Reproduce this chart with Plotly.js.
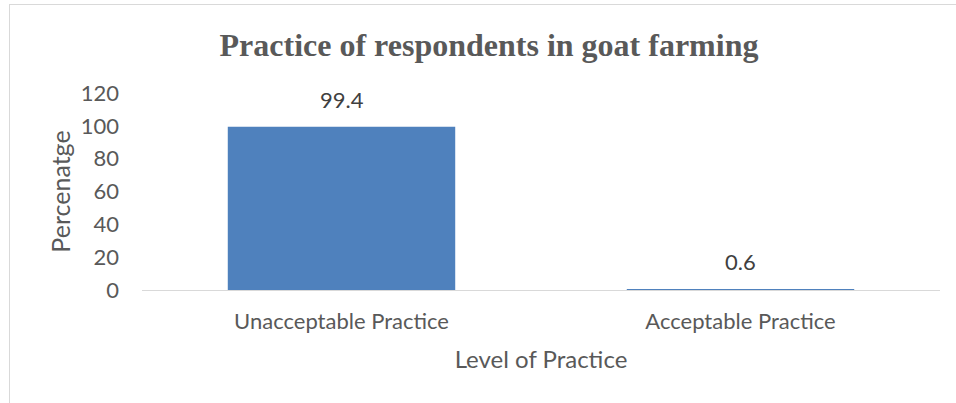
<!DOCTYPE html>
<html><head><meta charset="utf-8">
<script src="https://cdn.plot.ly/plotly-3.0.1.min.js"></script>
<style>
html,body{margin:0;padding:0;background:#fff;}
#frame{position:absolute;left:9px;top:4px;width:1000px;height:500px;border:1px solid #d9d9d9;box-sizing:border-box;}
#chart{position:absolute;left:0;top:0;width:956px;height:403px;}
</style></head>
<body>
<div id="frame"></div>
<div id="chart"></div>
<script>
const categories = ["Unacceptable Practice", "Acceptable Practice"];
const percentages = [99.4, 0.6];
const valueLabels = ["99.4", "0.6"];
const yTicks = [0, 20, 40, 60, 80, 100, 120];

const txt = '#595959';
const font = 'Lato, "Open Sans", sans-serif';

const labelAnnotations = categories.map((c, i) => ({
  x: c, y: percentages[i], xref: 'x', yref: 'y',
  text: valueLabels[i], showarrow: false,
  yanchor: 'bottom', yshift: 12,
  font: {family: font, size: 22, color: '#404040'}
}));

Plotly.newPlot('chart', [{
  type: 'bar',
  x: categories,
  y: percentages,
  marker: {color: '#4f81bd'},
  hoverinfo: 'none'
}], {
  width: 956, height: 403,
  paper_bgcolor: 'rgba(0,0,0,0)', plot_bgcolor: 'rgba(0,0,0,0)',
  margin: {l: 142, r: 16, t: 93, b: 113},
  bargap: 0.43,
  showlegend: false,
  annotations: labelAnnotations,
  title: {text: '<b>Practice of respondents in goat farming</b>', x: 489/956, xanchor: 'center', xref: 'container', y: 1 - 45/403, yanchor: 'middle', yref: 'container',
          font: {family: '"Liberation Serif", "Times New Roman", serif', size: 32, color: txt}},
  xaxis: {showline: true, linecolor: '#d9d9d9', linewidth: 1, showgrid: false, zeroline: false, ticks: '',
          ticklabelstandoff: 12,
          tickfont: {family: font, size: 22, color: txt},
          title: {text: 'Level of Practice', font: {family: font, size: 24, color: txt}, standoff: 17}},
  yaxis: {range: [0, 120], tickvals: yTicks, showgrid: false, zeroline: false, showline: false, ticks: '',
          ticklabelstandoff: 22,
          tickfont: {family: font, size: 22, color: txt},
          title: {text: 'Percenatge', font: {family: font, size: 25, color: txt}, standoff: 2}}
}, {displayModeBar: false, staticPlot: true});
</script>
</body></html>
